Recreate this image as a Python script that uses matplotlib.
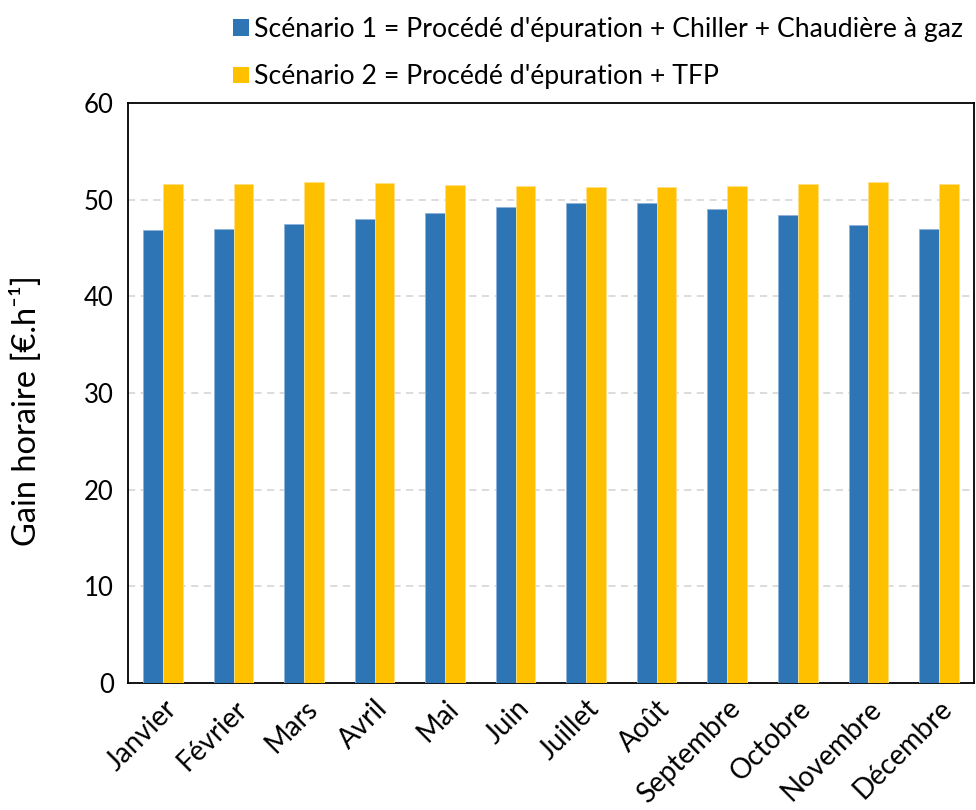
import matplotlib

matplotlib.use("Agg")
import matplotlib.pyplot as plt
import numpy as np
from matplotlib.patches import Patch

months = ["Janvier", "Février", "Mars", "Avril", "Mai", "Juin", "Juillet",
          "Août", "Septembre", "Octobre", "Novembre", "Décembre"]
scenario1 = [46.8, 47.0, 47.5, 48.0, 48.6, 49.2, 49.6, 49.6, 49.0, 48.4, 47.4, 46.9]
scenario2 = [51.6, 51.6, 51.8, 51.7, 51.5, 51.4, 51.3, 51.3, 51.45, 51.6, 51.8, 51.6]
labels = ["Scénario 1 = Procédé d'épuration + Chiller + Chaudière à gaz",
          "Scénario 2 = Procédé d'épuration + TFP"]
colors = ["#2E75B6", "#FFC000"]

plt.rcParams["font.family"] = ["Lato", "DejaVu Sans"]

fig = plt.figure(figsize=(9.76, 8.10), dpi=100)
ax = fig.add_axes([0.131, 0.157, 0.867, 0.716])

x = np.arange(len(months))
w = 0.28
ax.bar(x - w / 2, scenario1, w, color=colors[0], edgecolor="#8FB3D9", linewidth=0.6, zorder=3)
ax.bar(x + w / 2, scenario2, w, color=colors[1], edgecolor="#FFE082", linewidth=0.6, zorder=3)

ax.set_xlim(-0.5, len(months) - 0.5)
ax.set_ylim(0, 60)
ax.set_yticks(range(0, 61, 10))
ax.set_xticks(x)
ax.set_xticklabels(months, rotation=45, ha="right", rotation_mode="anchor")
ax.tick_params(axis="y", length=0, labelsize=18.5, pad=10)
ax.tick_params(axis="x", length=0, labelsize=20, pad=9)
for y in range(10, 60, 10):
    ax.axhline(y, color="#D9D9D9", linestyle=(0, (4, 3)), linewidth=1.3, zorder=1)
for s in ax.spines.values():
    s.set_linewidth(1.3)
    s.set_color("black")

ax.set_ylabel("Gain horaire [€.h⁻¹]", fontsize=23.5)
ax.yaxis.set_label_coords(-0.102, 0.47)

handles = [Patch(facecolor=c) for c in colors]
fig.legend(handles, labels, loc="upper left", bbox_to_anchor=(0.2137, 1.009),
           frameon=False, fontsize=19.2, handlelength=0.6, handleheight=0.6,
           handletextpad=0.2, labelspacing=0.85)

fig.savefig("out.png", dpi=100)
